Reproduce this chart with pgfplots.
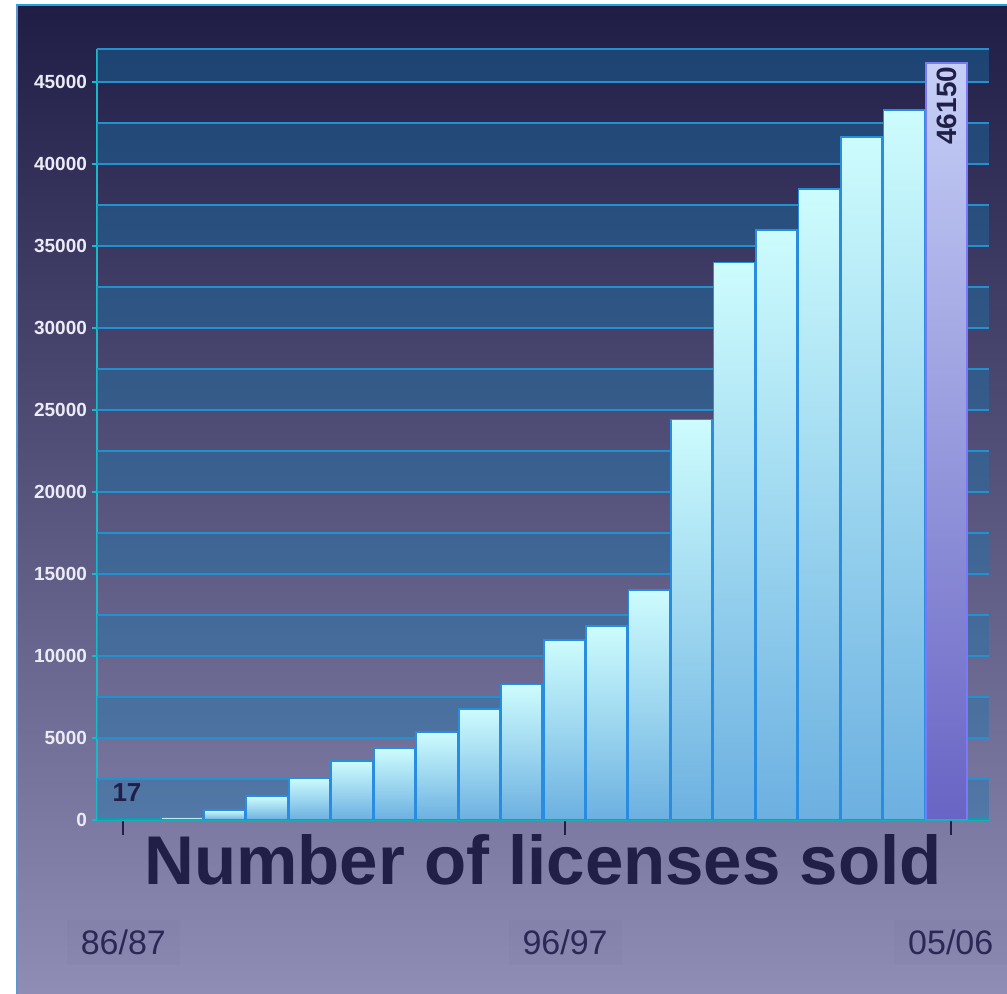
\documentclass[border=0pt]{standalone}
\usepackage{pgfplots}
\pgfplotsset{compat=1.18}
\usepackage{fontspec}
\setmainfont{Liberation Sans}
\definecolor{bgtop}{RGB}{31,28,70}
\definecolor{bgbot}{RGB}{143,140,181}
\definecolor{navy}{RGB}{33,31,72}
\definecolor{gridc}{RGB}{35,145,205}
\definecolor{bandc}{RGB}{20,120,175}
\definecolor{axcyan}{RGB}{25,185,200}
\definecolor{axteal}{RGB}{25,175,180}
\definecolor{bartop}{RGB}{205,252,253}
\definecolor{barbot}{RGB}{108,176,225}
\definecolor{baredge}{RGB}{40,140,225}
\definecolor{lasttop}{RGB}{198,208,246}
\definecolor{lastbot}{RGB}{104,100,196}
\definecolor{lastedge}{RGB}{125,120,245}
\definecolor{ticklab}{RGB}{42,40,85}
\pgfplotsset{mybar/.style={ybar, bar width=0.97, bar shift=0pt, draw=baredge, line width=0.9pt,
  top color=bartop, bottom color=barbot}}
\begin{document}
\begin{tikzpicture}
\useasboundingbox (0,0) rectangle (503.5pt,497pt);
\fill[white] (0,0) rectangle (503.5pt,497pt);
\shade[top color=bgtop,bottom color=bgbot] (8pt,0) rectangle (503.5pt,494.5pt);
\draw[line width=1pt, color={rgb,255:red,30;green,165;blue,215}] (8pt,494.5pt) -- (503.5pt,494.5pt);
\draw[line width=0.8pt, color={rgb,255:red,95;green,150;blue,205}] (8.4pt,0) -- (8.4pt,494.5pt);
\begin{axis}[
  at={(48.5pt,87pt)}, anchor=south west,
  width=446pt, height=385.5pt, scale only axis,
  xmin=-1, xmax=20, ymin=0, ymax=47000,
  enlargelimits=false,
  axis x line*=bottom, axis y line*=left,
  x axis line style={draw=axteal, line width=1.5pt},
  y axis line style={draw=axcyan, line width=1pt},
  tick align=outside,
  major tick length=2.5pt,
  xtick={-0.38,10.02,19.1},
  xticklabels={86/87,96/97,05/06},
  xtick style={draw=navy, line width=1pt, /pgfplots/major tick length=7.5pt},
  xticklabel style={anchor=base, yshift=-65pt, font=\fontsize{17}{20}\selectfont, text=ticklab,
     fill=black, fill opacity=0.015, text opacity=1, inner xsep=7pt, inner ysep=5pt},
  ytick={0,5000,...,45000},
  ytick style={draw=axcyan, line width=1pt},
  yticklabel style={font=\bfseries\fontsize{9.5}{11}\selectfont, text={rgb,255:red,235;green,235;blue,245}, xshift=1pt},
  scaled y ticks=false,
  /pgf/number format/1000 sep={},
  /pgf/number format/assume math mode=true,
]
% bands
\fill[bandc, opacity=0.4] (axis cs:-1,0) rectangle (axis cs:20,2500);
\fill[bandc, opacity=0.4] (axis cs:-1,5000) rectangle (axis cs:20,7500);
\fill[bandc, opacity=0.4] (axis cs:-1,10000) rectangle (axis cs:20,12500);
\fill[bandc, opacity=0.4] (axis cs:-1,15000) rectangle (axis cs:20,17500);
\fill[bandc, opacity=0.4] (axis cs:-1,20000) rectangle (axis cs:20,22500);
\fill[bandc, opacity=0.4] (axis cs:-1,25000) rectangle (axis cs:20,27500);
\fill[bandc, opacity=0.4] (axis cs:-1,30000) rectangle (axis cs:20,32500);
\fill[bandc, opacity=0.4] (axis cs:-1,35000) rectangle (axis cs:20,37500);
\fill[bandc, opacity=0.4] (axis cs:-1,40000) rectangle (axis cs:20,42500);
\fill[bandc, opacity=0.4] (axis cs:-1,45000) rectangle (axis cs:20,47000);
% grid lines
\pgfplotsinvokeforeach{2500,5000,7500,10000,12500,15000,17500,20000,22500,25000,27500,30000,32500,35000,37500,40000,42500,45000,47000}{
  \draw[gridc, line width=0.75pt] (axis cs:-1,#1) -- (axis cs:20,#1);
}
\draw[axteal, line width=1pt] (axis cs:20,0) -- ++(0pt,-2pt);
% first bar with label
\addplot[mybar, nodes near coords,
  every node near coord/.append style={anchor=base, xshift=-6.25pt, yshift=9pt,
     font=\bfseries\fontsize{13}{15}\selectfont, text=navy}]
  coordinates {(0,17)};
% remaining bars, one path each so each bar has its own gradient
\addplot[mybar] coordinates {(1,150)};
\addplot[mybar] coordinates {(2,590)};
\addplot[mybar] coordinates {(3,1440)};
\addplot[mybar] coordinates {(4,2580)};
\addplot[mybar] coordinates {(5,3600)};
\addplot[mybar] coordinates {(6,4370)};
\addplot[mybar] coordinates {(7,5370)};
\addplot[mybar] coordinates {(8,6750)};
\addplot[mybar] coordinates {(9,8260)};
\addplot[mybar] coordinates {(10,10990)};
\addplot[mybar] coordinates {(11,11810)};
\addplot[mybar] coordinates {(12,14020)};
\addplot[mybar] coordinates {(13,24410)};
\addplot[mybar] coordinates {(14,33990)};
\addplot[mybar] coordinates {(15,35980)};
\addplot[mybar] coordinates {(16,38480)};
\addplot[mybar] coordinates {(17,41650)};
\addplot[mybar] coordinates {(18,43290)};
% last bar
\addplot[ybar, bar width=0.97, bar shift=0pt, draw=lastedge, line width=0.9pt,
  top color=lasttop, bottom color=lastbot,
  nodes near coords,
  every node near coord/.append style={rotate=90, anchor=east, inner sep=1.5pt,
     font=\bfseries\fontsize{14}{16}\selectfont, text=navy}]
  coordinates {(19,46150)};
\end{axis}
\node[anchor=base, text=navy, font=\bfseries\fontsize{34.5}{40}\selectfont] at (271.5pt,54.5pt) {Number of licenses sold};
\end{tikzpicture}
\end{document}
